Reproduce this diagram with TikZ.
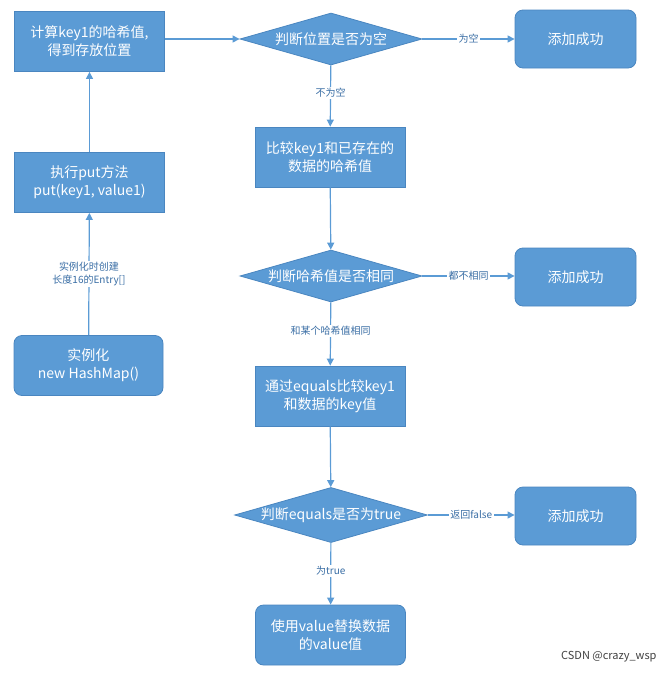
\documentclass[tikz,border=0pt]{standalone}
\usepackage{fontspec}
\setmainfont{Noto Sans CJK SC}
\usetikzlibrary{shapes.geometric,arrows.meta}
\definecolor{bfill}{HTML}{5B9BD5}
\definecolor{bdraw}{HTML}{4A86C0}
\definecolor{ltxt}{HTML}{3A6EA5}
\begin{document}
\begin{tikzpicture}[x=1pt,y=-1pt,
  box/.style={draw=bdraw,fill=bfill,text=white,minimum width=150pt,minimum height=60pt,align=center,font=\fontsize{14}{18}\selectfont,line width=0.8pt},
  rbox/.style={box,rounded corners=8pt},
  dia/.style={diamond,aspect=3.5,draw=bdraw,fill=bfill,text=white,inner sep=0pt,minimum width=182pt,minimum height=52pt,font=\fontsize{14}{18}\selectfont,line width=0.8pt},
  arr/.style={-{Triangle[length=7pt,width=7pt]},draw=bfill,line width=1.2pt},
  lab/.style={fill=white,text=ltxt,font=\fontsize{10}{13}\selectfont,inner sep=1.5pt,align=center}]
\useasboundingbox (0,0) rectangle (670,673);
\node[box] (calc) at (89.5,41.5) {计算key1的哈希值,\\得到存放位置};
\node[box] (put) at (89.5,182.5) {执行put方法\\put(key1, value1)};
\node[rbox,minimum width=149pt] (inst) at (88.5,365.5) {实例化\\new HashMap()};
\node[dia] (d1) at (331,39) {判断位置是否为空};
\node[box] (cmp) at (330,157) {比较key1和已存在的\\数据的哈希值};
\node[dia] (d2) at (331,276) {判断哈希值是否相同};
\node[box] (eq) at (330,396) {通过equals比较key1\\和数据的key值};
\node[dia] (d3) at (331,515) {判断equals是否为true};
\node[rbox] (rep) at (330.5,635) {使用value替换数据\\的value值};
\node[rbox,minimum width=121pt,minimum height=58pt] (s1) at (575.5,39) {添加成功};
\node[rbox,minimum width=121pt,minimum height=58pt] (s2) at (575.5,277) {添加成功};
\node[rbox,minimum width=121pt,minimum height=58pt] (s3) at (575.5,516) {添加成功};
\draw[arr] (inst) -- node[lab]{实例化时创建\\长度16的Entry[]} (put);
\draw[arr] (put) -- (calc);
\draw[arr] (calc.east|-d1) -- (d1);
\draw[arr] (d1) -- node[lab]{为空} (s1.west|-d1);
\draw[arr] (d1) -- node[lab,pos=0.45]{不为空} (cmp);
\draw[arr] (cmp) -- (d2);
\draw[arr] (d2) -- node[lab]{都不相同} (s2.west|-d2);
\draw[arr] (d2) -- node[lab,pos=0.45]{和某个哈希值相同} (eq);
\draw[arr] (eq) -- (d3);
\draw[arr] (d3) -- node[lab]{返回false} (s3.west|-d3);
\draw[arr] (d3) -- node[lab,pos=0.45]{为true} (rep);
\node[text=black!75,font=\fontsize{11}{13}\selectfont,anchor=east] (wm) at (660,657) {CSDN @crazy\_wsp};
\end{tikzpicture}
\end{document}
